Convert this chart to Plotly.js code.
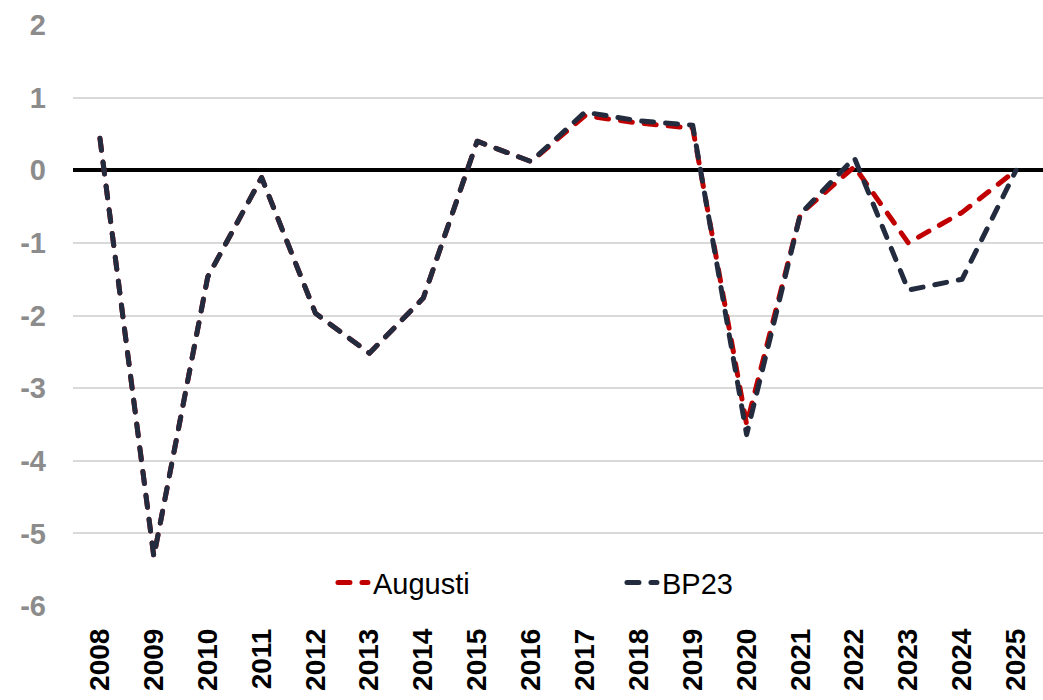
<!DOCTYPE html>
<html>
<head>
<meta charset="utf-8">
<script src="https://cdn.plot.ly/plotly-3.0.1.min.js"></script>
<style>
html,body{margin:0;padding:0;background:#fff;}
#chart{width:1043px;height:700px;}
#chart .js-line{stroke-linecap:round !important;stroke-linejoin:round !important;}
</style>
</head>
<body>
<div id="chart"></div>
<script>
const years = ["2008","2009","2010","2011","2012","2013","2014","2015","2016","2017","2018","2019","2020","2021","2022","2023","2024","2025"];
const augusti = [0.44,-5.32,-1.47,-0.1,-1.97,-2.52,-1.76,0.4,0.12,0.75,0.65,0.58,-3.5,-0.6,0.05,-1.0,-0.58,0.0];
const bp23 = [0.44,-5.32,-1.47,-0.1,-1.97,-2.52,-1.76,0.4,0.12,0.8,0.68,0.62,-3.64,-0.6,0.17,-1.65,-1.5,0.0];
const yTicks = [-6,-5,-4,-3,-2,-1,0,1,2];

const traces = [
  {x: years, y: augusti, name: "Augusti", type: "scatter", mode: "lines",
   line: {color: "#C00000", width: 5, dash: "12px,12px"}},
  {x: years, y: bp23, name: "BP23", type: "scatter", mode: "lines",
   line: {color: "#222C3E", width: 5, dash: "12px,12px"}}
];

const layout = {
  width: 1043, height: 700,
  margin: {l: 73, r: 0, t: 25, b: 94},
  paper_bgcolor: "#fff", plot_bgcolor: "#fff",
  showlegend: true,
  legend: {orientation: "h", x: 0.268, xanchor: "left", y: 0.04, yanchor: "middle",
           entrywidth: 244, entrywidthmode: "pixels",
           font: {family: "Liberation Sans, Arial, sans-serif", size: 29, color: "#000"},
           bgcolor: "rgba(255,255,255,0)"},
  xaxis: {type: "category", range: [-0.5, 17.5], showgrid: false, zeroline: false,
          showline: false, ticks: "", tickangle: -90, ticklabelstandoff: 16,
          tickfont: {family: "Liberation Sans, Arial, sans-serif", size: 28, color: "#000", weight: "bold"}},
  yaxis: {range: [-6, 2], tickvals: yTicks, ticktext: yTicks.map(String),
          showgrid: true, gridcolor: "#d9d9d9", gridwidth: 2,
          zeroline: true, zerolinecolor: "#000", zerolinewidth: 4,
          showline: false, ticks: "", ticklabelstandoff: 26,
          tickfont: {family: "Liberation Sans, Arial, sans-serif", size: 29, color: "#8c8c8c", weight: "bold"}}
};

Plotly.newPlot("chart", traces, layout, {displayModeBar: false, staticPlot: true});
</script>
</body>
</html>
